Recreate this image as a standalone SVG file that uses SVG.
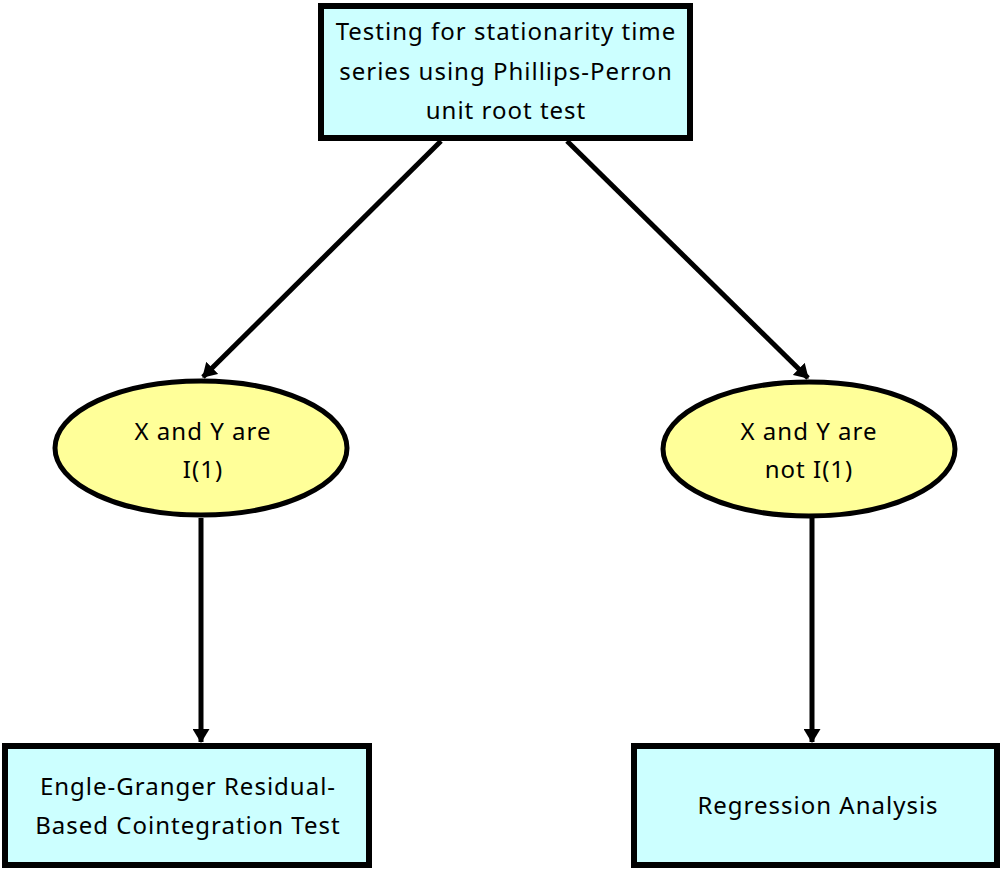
<svg xmlns="http://www.w3.org/2000/svg" width="1004" height="870" viewBox="0 0 1004 870">
<style>
.box{fill:#ccffff;stroke:#000;stroke-width:6}
.ell{fill:#ffff99;stroke:#000;stroke-width:5}
.t{font-family:"Noto Sans","DejaVu Sans",sans-serif;font-size:24px;letter-spacing:1px;fill:#000;text-anchor:middle}
.c{stroke:#000;stroke-width:5;fill:none;marker-end:url(#ah)}
</style>
<defs>
<marker id="ah" markerWidth="14" markerHeight="17" refX="13" refY="8.5" orient="auto" markerUnits="userSpaceOnUse">
<path d="M0,0 L14,8.5 L0,17 Z" fill="#000"/>
</marker>
</defs>
<rect width="1004" height="870" fill="#fff"/>
<g id="connectors">
<line class="c" x1="441" y1="141" x2="203" y2="377"/>
<line class="c" x1="567" y1="141" x2="808" y2="378"/>
<line class="c" x1="201" y1="518" x2="201" y2="742"/>
<line class="c" x1="812" y1="518" x2="812" y2="742"/>
</g>
<g id="top">
<rect class="box" x="321" y="6" width="369" height="132"/>
<text class="t" x="506" y="40">Testing for stationarity time</text>
<text class="t" x="506" y="80">series using Phillips-Perron</text>
<text class="t" x="506" y="119">unit root test</text>
</g>
<g id="left-ellipse">
<ellipse class="ell" cx="201" cy="448" rx="146" ry="67"/>
<text class="t" x="203" y="440">X and Y are</text>
<text class="t" x="203" y="478">I(1)</text>
</g>
<g id="right-ellipse">
<ellipse class="ell" cx="809" cy="449" rx="146" ry="67"/>
<text class="t" x="809" y="440">X and Y are</text>
<text class="t" x="809" y="478">not I(1)</text>
</g>
<g id="engle">
<rect class="box" x="5" y="746" width="364" height="119"/>
<text class="t" x="188" y="795">Engle-Granger Residual-</text>
<text class="t" x="188" y="834">Based Cointegration Test</text>
</g>
<g id="regression">
<rect class="box" x="634" y="746" width="363" height="119"/>
<text class="t" x="818" y="814">Regression Analysis</text>
</g>
</svg>
